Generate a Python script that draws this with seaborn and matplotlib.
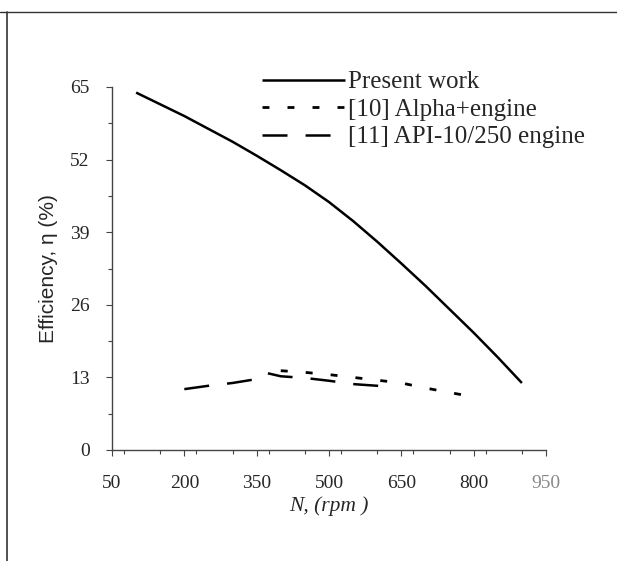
import numpy as np
import pandas as pd
import matplotlib
matplotlib.use("Agg")
import matplotlib.pyplot as plt
import seaborn as sns
from matplotlib.lines import Line2D
from matplotlib.ticker import MultipleLocator

sns.set_theme(style="white")
plt.rcParams['font.family'] = ['Liberation Serif', 'DejaVu Serif']
plt.rcParams['lines.scale_dashes'] = False

# ---- data ----
present_rpm = [100, 150, 200, 250, 300, 350, 400, 450, 500, 550, 600, 650, 700, 750, 800, 850, 900]
present_eff = [64.0, 61.9, 59.8, 57.5, 55.2, 52.7, 50.1, 47.4, 44.4, 41.0, 37.3, 33.4, 29.4, 25.2, 21.0, 16.6, 12.0]

alpha_rpm = [400, 450, 500, 550, 600, 650, 700, 750, 800]
alpha_eff = [14.2, 13.9, 13.5, 13.0, 12.5, 12.0, 11.1, 10.3, 9.5]

api_rpm = [200, 250, 300, 350, 370, 400, 450, 500, 550, 600, 625]
api_eff = [10.9, 11.5, 12.0, 12.7, 13.8, 13.2, 12.9, 12.4, 11.8, 11.5, 11.1]

labels = ["Present work", "[10] Alpha+engine", "[11] API-10/250 engine"]
x_ticks = [50, 200, 350, 500, 650, 800, 950]
y_ticks = [0, 13, 26, 39, 52, 65]

df = pd.concat([
    pd.DataFrame({"rpm": present_rpm, "eff": present_eff, "series": labels[0]}),
    pd.DataFrame({"rpm": alpha_rpm, "eff": alpha_eff, "series": labels[1]}),
    pd.DataFrame({"rpm": api_rpm, "eff": api_eff, "series": labels[2]}),
])

fig = plt.figure(figsize=(6.17, 5.61), dpi=100)
ax = fig.add_axes([112/617, 1-450/561, (546-112)/617, (450-87)/561])

styles = {labels[0]: (0, ()), labels[1]: (0, (5, 13)), labels[2]: (0, (18, 13))}
widths = {labels[0]: 1.8, labels[1]: 2.0, labels[2]: 1.8}
for lab in labels:
    sub = df[df["series"] == lab]
    sns.lineplot(data=sub, x="rpm", y="eff", ax=ax, color="black",
                 linestyle=styles[lab], linewidth=widths[lab], label=lab,
                 legend=False, sort=False)

ax.set_xlim(50, 950)
ax.set_ylim(0, 65)
ax.set_xticks(x_ticks)
ax.set_yticks(y_ticks)
ax.xaxis.set_minor_locator(MultipleLocator(75))
ax.yaxis.set_minor_locator(MultipleLocator(6.5))
for s in ["top", "right"]:
    ax.spines[s].set_visible(False)
for s in ["left", "bottom"]:
    ax.spines[s].set_color("#444444")
    ax.spines[s].set_linewidth(1.0)
ax.tick_params(axis="both", which="major", direction="out", length=4, width=0.8,
               color="#444444", labelsize=14, bottom=True, left=True)
ax.tick_params(axis="both", which="minor", direction="out", length=3, width=0.8,
               color="#444444", bottom=True, left=True)
ax.tick_params(axis="x", which="major", pad=14)
ax.tick_params(axis="y", which="major", pad=12)
for t in ax.get_xticklabels():
    if t.get_text() == "950":
        t.set_color("#888888")

ax.set_xlabel("N, (rpm )", fontsize=15.5, fontstyle="italic", labelpad=3)
ax.set_ylabel("Efficiency, η (%)", fontsize=15, family=["Liberation Sans", "DejaVu Sans"], labelpad=9)

handles = [Line2D([], [], color="black", linestyle=styles[l], linewidth=widths[l]) for l in labels]
leg = ax.legend(handles, labels, loc="upper left", bbox_to_anchor=((262-112)/434, (450-71)/363),
                frameon=False, fontsize=18, handlelength=3.3, handletextpad=0.15,
                labelspacing=0.2, borderpad=0, borderaxespad=0)

# scanned page border lines
fig.add_artist(Line2D([0, 1], [1-12/561, 1-12/561], transform=fig.transFigure, color="#333333", linewidth=1.0))
fig.add_artist(Line2D([7/617, 7/617], [0, 1-12/561], transform=fig.transFigure, color="#333333", linewidth=1.2))

fig.savefig("out.png", dpi=100)
